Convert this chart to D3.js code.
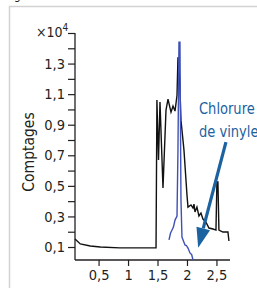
<!DOCTYPE html>
<html>
<head>
<meta charset="utf-8">
<script src="https://cdn.jsdelivr.net/npm/d3@7"></script>
<style>
	body { margin: 0; background: #fff; }
	svg { display: block; }
	text { font-family: 'Liberation Sans Narrow', 'DejaVu Sans Condensed', 'Roboto', sans-serif; fill: #231f20; }
</style>
</head>
<body>
<div class="container"></div>
<script>
// retention time (min) / counts (x10^4)
var blackTime = [0.10, 0.19, 0.36, 0.53, 0.86, 1.20, 1.475, 1.49, 1.517, 1.542, 1.593, 1.644, 1.678, 1.729, 1.763, 1.797, 1.831, 1.847, 1.873, 1.898, 1.949, 1.983, 2.0, 2.017, 2.068, 2.102, 2.119, 2.136, 2.169, 2.203, 2.237, 2.271, 2.322, 2.373, 2.441, 2.492, 2.508, 2.525, 2.542, 2.61, 2.695, 2.712];
var blackCounts = [0.152, 0.12, 0.107, 0.10, 0.094, 0.094, 0.094, 1.061, 0.669, 1.048, 0.486, 0.995, 1.067, 0.982, 1.022, 0.989, 1.093, 1.342, 1.224, 0.93, 0.734, 0.538, 0.44, 0.361, 0.375, 0.355, 0.381, 0.329, 0.361, 0.303, 0.322, 0.283, 0.263, 0.224, 0.218, 0.211, 0.525, 0.525, 0.211, 0.198, 0.198, 0.139];

var blueTime = [1.695, 1.72, 1.746, 1.77, 1.797, 1.831, 1.847, 1.864, 1.881, 1.898, 1.915, 1.94, 1.966, 1.99, 2.017, 2.051, 2.08, 2.102];
var blueCounts = [0.146, 0.19, 0.211, 0.23, 0.276, 0.303, 0.734, 1.44, 1.44, 0.407, 0.165, 0.14, 0.113, 0.11, 0.093, 0.061, 0.05, 0.015];

var xTicks = [0.5, 1, 1.5, 2, 2.5];
var xTickLabels = ['0,5', '1', '1,5', '2', '2,5'];
var yTicks = [0.1, 0.3, 0.5, 0.7, 0.9, 1.1, 1.3];
var yTickLabels = ['0,1', '0,3', '0,5', '0,7', '0,9', '1,1', '1,3'];
var yMinorTicks = [0.2, 0.4, 0.6, 0.8, 1.0, 1.2, 1.4, 1.5];

var width = 257,
	height = 288,
	ink = '#231f20',
	blue = '#3f51b5',
	noteBlue = '#1a62a0';

var svg = d3.select('.container')
	.append('svg')
	.attr('width', width)
	.attr('height', height);

// figure frame
svg.append('path')
	.attr('d', 'M9.5,' + height + 'V6.5H' + width)
	.attr('fill', 'none')
	.attr('stroke', '#d2d2d2')
	.attr('stroke-width', 1.5);

svg.append('text')
	.attr('x', 14)
	.attr('y', -1)
	.style('font-size', '12px')
	.text('g');

var x = d3.scaleLinear().domain([0.1, 2.73]).range([75, 230]);
var y = d3.scaleLinear().domain([0.015, 1.5]).range([260, 33]);

var xAxis = svg.append('g')
	.attr('transform', 'translate(0,' + y(0.015) + ')')
	.call(d3.axisBottom(x)
		.tickValues(xTicks)
		.tickSize(6)
		.tickPadding(4)
		.tickFormat(function (d, i) { return xTickLabels[i]; }));

var yAxis = svg.append('g')
	.attr('transform', 'translate(' + x(0.1) + ',0)')
	.call(d3.axisLeft(y)
		.tickValues(yTicks)
		.tickSize(7)
		.tickPadding(3)
		.tickFormat(function (d, i) { return yTickLabels[i]; }));

svg.append('g')
	.attr('transform', 'translate(' + x(0.1) + ',0)')
	.call(d3.axisLeft(y).tickValues(yMinorTicks).tickSize(7).tickFormat(''))
	.select('.domain').remove();

svg.selectAll('.domain')
	.attr('stroke', ink)
	.attr('stroke-width', 1.3);
svg.selectAll('.tick line')
	.attr('stroke', ink)
	.attr('stroke-width', 1.2);

xAxis.select('.domain').attr('d', 'M' + x(0.1) + ',0H' + x(2.73));
yAxis.select('.domain').attr('d', 'M0,' + y(1.5) + 'V' + y(0.015));

svg.selectAll('.tick text')
	.attr('fill', ink)
	.style('font-size', '14.5px')
	.style('font-family', null);

// x10^4 multiplier
var mult = svg.append('text')
	.attr('x', 36)
	.attr('y', 37)
	.style('font-size', '14px');
mult.append('tspan').text('×10');
mult.append('tspan')
	.attr('dy', -6)
	.style('font-size', '10px')
	.text('4');

svg.append('text')
	.attr('transform', 'translate(34,152) rotate(-90)')
	.attr('text-anchor', 'middle')
	.style('font-size', '15.5px')
	.text('Comptages');

var line = d3.line()
	.x(function (d) { return x(d[0]); })
	.y(function (d) { return y(d[1]); });

svg.append('path')
	.datum(d3.zip(blackTime, blackCounts))
	.attr('d', line)
	.attr('fill', 'none')
	.attr('stroke', '#111')
	.attr('stroke-width', 1.4);

svg.append('path')
	.datum(d3.zip(blueTime, blueCounts))
	.attr('d', line)
	.attr('fill', 'none')
	.attr('stroke', blue)
	.attr('stroke-width', 1.4);

// annotation, squeezed a bit like the condensed original
var note = svg.append('text')
	.attr('transform', 'translate(199,114) scale(0.88,1)')
	.attr('fill', noteBlue)
	.style('fill', noteBlue)
	.style('font-size', '16.5px');
note.append('tspan').attr('x', 0).attr('y', 0).text('Chlorure');
note.append('tspan').attr('x', 0).attr('y', 23).text('de vinyle');

var tail = [x(2.661), y(0.786)],
	tip = [x(2.19), y(0.095)],
	ang = Math.atan2(tip[1] - tail[1], tip[0] - tail[0]),
	headLen = 20,
	headHalf = 7,
	base = [tip[0] - headLen * Math.cos(ang), tip[1] - headLen * Math.sin(ang)];

svg.append('line')
	.attr('x1', tail[0])
	.attr('y1', tail[1])
	.attr('x2', base[0])
	.attr('y2', base[1])
	.attr('stroke', noteBlue)
	.attr('stroke-width', 3.2);

svg.append('path')
	.attr('d', 'M' + tip[0] + ',' + tip[1] +
		'L' + (base[0] + headHalf * Math.sin(ang)) + ',' + (base[1] - headHalf * Math.cos(ang)) +
		'L' + (base[0] - headHalf * Math.sin(ang)) + ',' + (base[1] + headHalf * Math.cos(ang)) + 'Z')
	.attr('fill', noteBlue);
</script>
</body>
</html>
